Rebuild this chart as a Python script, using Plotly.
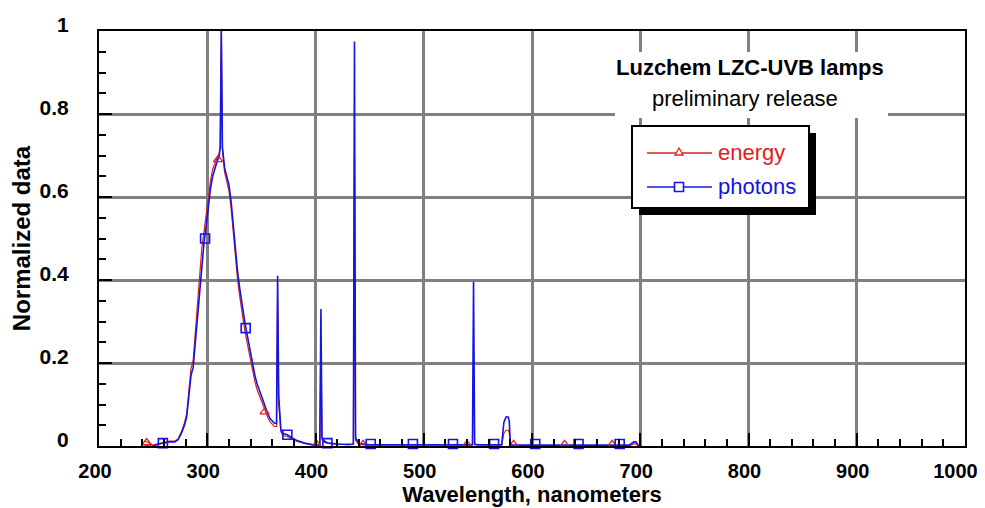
import plotly.graph_objects as go

# ---- data ----
wavelength = [242, 246, 250, 255, 260, 265, 270, 273, 276, 279, 281, 283, 285, 287, 289, 291, 293, 295,
              297, 299, 301, 303, 305, 307, 309, 311, 312, 313, 314, 316, 318, 320, 322, 324, 326, 328,
              330, 332, 334, 336, 338, 340, 342, 344, 346, 348, 350, 352, 354, 356, 358, 360, 362, 364,
              365, 366, 368, 370, 374, 378, 383, 390, 395, 400, 404, 405, 406, 408, 411, 415, 420, 430,
              435, 436, 437, 440, 445, 450, 500, 545, 546, 547, 550, 572, 574, 576, 578, 579, 580, 600,
              650, 690, 694, 696, 698, 700]

photons = [0.0, 0.0, 0.0, 0.005, 0.007, 0.01, 0.01, 0.015, 0.03, 0.05, 0.07, 0.13, 0.17, 0.19, 0.25, 0.31,
           0.37, 0.45, 0.49, 0.53, 0.58, 0.62, 0.65, 0.67, 0.685, 0.70, 0.72, 1.0, 0.72, 0.67, 0.65, 0.63,
           0.59, 0.53, 0.48, 0.42, 0.38, 0.34, 0.31, 0.28, 0.25, 0.22, 0.195, 0.17, 0.15, 0.135, 0.12,
           0.105, 0.09, 0.077, 0.066, 0.06, 0.055, 0.055, 0.41, 0.12, 0.04, 0.03, 0.027, 0.02, 0.013,
           0.007, 0.004, 0.002, 0.003, 0.33, 0.02, 0.012, 0.008, 0.006, 0.005, 0.004, 0.005, 0.975, 0.02,
           0.006, 0.004, 0.003, 0.003, 0.003, 0.396, 0.005, 0.003, 0.003, 0.057, 0.07, 0.07, 0.06, 0.003,
           0.002, 0.002, 0.002, 0.01, 0.01, 0.002, 0.0]

energy = [0.012, 0.008, 0.002, 0.006, 0.008, 0.012, 0.012, 0.017, 0.034, 0.056, 0.078, 0.144, 0.187, 0.207,
          0.271, 0.333, 0.395, 0.478, 0.516, 0.555, 0.603, 0.64, 0.667, 0.683, 0.694, 0.704, 0.722, 1.0,
          0.717, 0.66, 0.64, 0.616, 0.574, 0.515, 0.462, 0.40, 0.36, 0.32, 0.29, 0.26, 0.232, 0.202,
          0.179, 0.155, 0.136, 0.122, 0.107, 0.093, 0.08, 0.068, 0.058, 0.052, 0.047, 0.047, 0.35, 0.103,
          0.034, 0.025, 0.023, 0.017, 0.011, 0.006, 0.003, 0.002, 0.002, 0.253, 0.015, 0.009, 0.006,
          0.005, 0.004, 0.003, 0.004, 0.70, 0.014, 0.004, 0.003, 0.002, 0.002, 0.002, 0.2, 0.003, 0.002,
          0.002, 0.031, 0.038, 0.038, 0.032, 0.002, 0.001, 0.001, 0.001, 0.005, 0.005, 0.001, 0.0]

energy_marker_wl = [244, 310, 353, 401, 444, 540, 583, 630, 674]
energy_marker_val = [0.008, 0.69, 0.082, 0.004, 0.004, 0.004, 0.004, 0.004, 0.004]

photon_marker_wl = [259, 298, 335.5, 374, 411, 451, 490, 527, 565, 603, 643, 681]
photon_marker_val = [0.007, 0.50, 0.284, 0.027, 0.007, 0.005, 0.005, 0.005, 0.005, 0.005, 0.005, 0.005]

x_ticks = [200, 300, 400, 500, 600, 700, 800, 900, 1000]
x_tick_labels = ["200", "300", "400", "500", "600", "700", "800", "900", "1000"]

RED = "#e0201c"
BLUE = "#1414e6"
FONT = "Arial, Liberation Sans, sans-serif"

fig = go.Figure()
fig.add_trace(go.Scatter(x=wavelength, y=energy, mode="lines", line=dict(color=RED, width=1.2),
                         name="energy", showlegend=False, cliponaxis=False))
fig.add_trace(go.Scatter(x=wavelength, y=photons, mode="lines", line=dict(color=BLUE, width=1.6),
                         name="photons", showlegend=False, cliponaxis=False))
fig.add_trace(go.Scatter(x=energy_marker_wl, y=energy_marker_val, mode="markers",
                         marker=dict(symbol="triangle-up-open", size=8, color=RED, line=dict(width=1.3)),
                         showlegend=False, cliponaxis=False))
fig.add_trace(go.Scatter(x=photon_marker_wl, y=photon_marker_val, mode="markers",
                         marker=dict(symbol="square-open", size=9, color=BLUE, line=dict(width=1.6)),
                         showlegend=False, cliponaxis=False))

# the page body adds an 8 px offset, so the figure is sized to the remaining window
OFF = 8
W, H = 985 - OFF, 508 - OFF
PLOT_L, PLOT_R, PLOT_T, PLOT_B = 99, 965, 31, 446      # plot frame in window pixels
L, R = PLOT_L - OFF, W - (PLOT_R - OFF)
T, B = PLOT_T - OFF, H - (PLOT_B - OFF)
pw, ph = PLOT_R - PLOT_L, PLOT_B - PLOT_T


def px(x):
    return (x - PLOT_L) / pw


def py(y):
    return (PLOT_B - y) / ph


# the last label sits at the right window edge: pad it so it stays inside the page
shown_x_labels = x_tick_labels[:-1] + [x_tick_labels[-1] + "\u00a0\u00a0"]

shapes = [
    # white box behind the title text
    dict(type="rect", xref="paper", yref="paper", x0=px(615), x1=px(888), y0=py(118), y1=py(52),
         fillcolor="white", line=dict(width=0), layer="above"),
    # legend shadow and box
    dict(type="rect", xref="paper", yref="paper", x0=px(639), x1=px(816), y0=py(215), y1=py(133),
         fillcolor="black", line=dict(width=0), layer="above"),
    dict(type="rect", xref="paper", yref="paper", x0=px(632), x1=px(809), y0=py(208), y1=py(126),
         fillcolor="white", line=dict(color="black", width=2), layer="above"),
    # legend lines
    dict(type="line", xref="paper", yref="paper", x0=px(647), x1=px(712), y0=py(153), y1=py(153),
         line=dict(color=RED, width=1.3), layer="above"),
    dict(type="line", xref="paper", yref="paper", x0=px(647), x1=px(712), y0=py(187), y1=py(187),
         line=dict(color=BLUE, width=1.6), layer="above"),
    # legend symbols
    dict(type="path", xref="paper", yref="paper", xsizemode="pixel", ysizemode="pixel",
         xanchor=px(679), yanchor=py(152), path="M-4,-3L4,-3L0,4Z",
         fillcolor="white", line=dict(color=RED, width=1.3), layer="above"),
    dict(type="rect", xref="paper", yref="paper", xsizemode="pixel", ysizemode="pixel",
         xanchor=px(679), yanchor=py(187), x0=-4.5, x1=4.5, y0=-4.5, y1=4.5,
         fillcolor="white", line=dict(color=BLUE, width=1.6), layer="above"),
]

annotations = [
    dict(text="<b>Luzchem LZC-UVB lamps</b>", xref="paper", yref="paper", x=px(750), y=py(68),
         xanchor="center", yanchor="middle",
         showarrow=False, font=dict(family=FONT, size=22, color="black")),
    dict(text="preliminary release", xref="paper", yref="paper", x=px(745), y=py(98),
         xanchor="center", yanchor="middle",
         showarrow=False, font=dict(family=FONT, size=22, color="black")),
    dict(text="energy", xref="paper", yref="paper", x=px(716), y=py(152), xanchor="left",
         yanchor="middle", showarrow=False, font=dict(family=FONT, size=22, color=RED)),
    dict(text="photons", xref="paper", yref="paper", x=px(716), y=py(186), xanchor="left",
         yanchor="middle", showarrow=False, font=dict(family=FONT, size=22, color=BLUE)),
]

axis_common = dict(
    showgrid=True, gridcolor="#808080", gridwidth=3,
    showline=True, linecolor="black", linewidth=2, mirror=True,
    zeroline=False, ticks="inside", ticklen=13, tickwidth=1.5, tickcolor="black",
    automargin=False, ticklabeloverflow="allow",
)

fig.update_layout(
    width=W, height=H,
    margin=dict(l=L, r=R, t=T, b=B),
    paper_bgcolor="white", plot_bgcolor="white",
    showlegend=False,
    shapes=shapes, annotations=annotations,
    xaxis=dict(range=[200, 1000], tickvals=x_ticks, ticktext=shown_x_labels,
               tickfont=dict(family=FONT, size=20, color="black", weight="bold"),
               minor=dict(dtick=20, ticks="inside", ticklen=7, tickwidth=1.5, tickcolor="black",
                          showgrid=False),
               title=dict(text="Wavelength, nanometers", standoff=4,
                          font=dict(family=FONT, size=22, color="black", weight="bold")),
               ticklabelstandoff=6, ticklabelshift=-4, **axis_common),
    yaxis=dict(range=[0, 1], dtick=0.2,
               tickfont=dict(family=FONT, size=21, color="black", weight="bold"),
               minor=dict(dtick=0.05, ticks="inside", ticklen=7, tickwidth=1.5, tickcolor="black",
                          showgrid=False),
               title=dict(text="Normalized data", standoff=13,
                          font=dict(family=FONT, size=24, color="black", weight="bold")),
               ticklabelstandoff=24, ticklabelshift=-6, **axis_common),
)

fig.write_html("out.html")
